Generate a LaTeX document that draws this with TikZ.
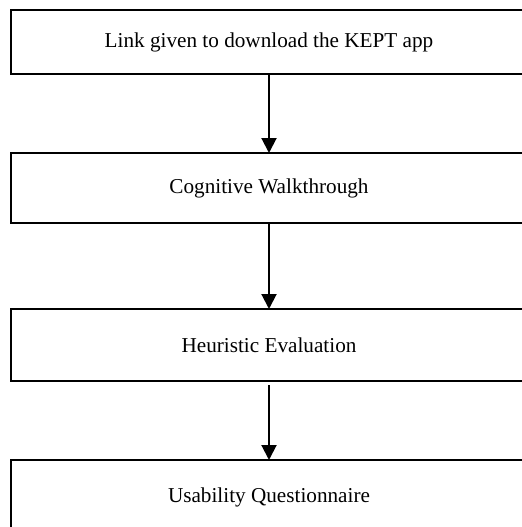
\documentclass[tikz,border=0pt]{standalone}
\usepackage{fontspec}
\setmainfont{Liberation Serif}
\usetikzlibrary{positioning,arrows.meta}

\begin{document}
\begin{tikzpicture}[x=1pt,y=1pt,
    box/.style={draw, line width=1pt, minimum width=258pt, inner sep=0pt, outer sep=0pt,
        font=\fontsize{10.6}{13}\selectfont},
    flow/.style={-{Triangle[width=7.5pt,length=7.5pt]}, line width=1pt}]
    \useasboundingbox (0,0) rectangle (261,-263.5);
    \clip (0,0) rectangle (261,-263.5);
    % Etape 1
    \node[box, minimum height=32pt] (link) at (134.5,-21) {Link given to download the KEPT app};
    % Etape 2
    \node[box, minimum height=35pt, below=39.5pt of link] (walk) {Cognitive Walkthrough};
    % Etape 3
    \node[box, minimum height=36pt, below=43pt of walk] (heur) {Heuristic Evaluation};
    % Etape 4
    \node[box, minimum height=37pt, below=39.5pt of heur] (quest) {Usability Questionnaire};
    % Fleches
    \draw[flow] (link) -- (walk);
    \draw[flow] (walk) -- (heur);
    \draw[flow, shorten <=2pt] (heur) -- (quest);
\end{tikzpicture}
\end{document}
